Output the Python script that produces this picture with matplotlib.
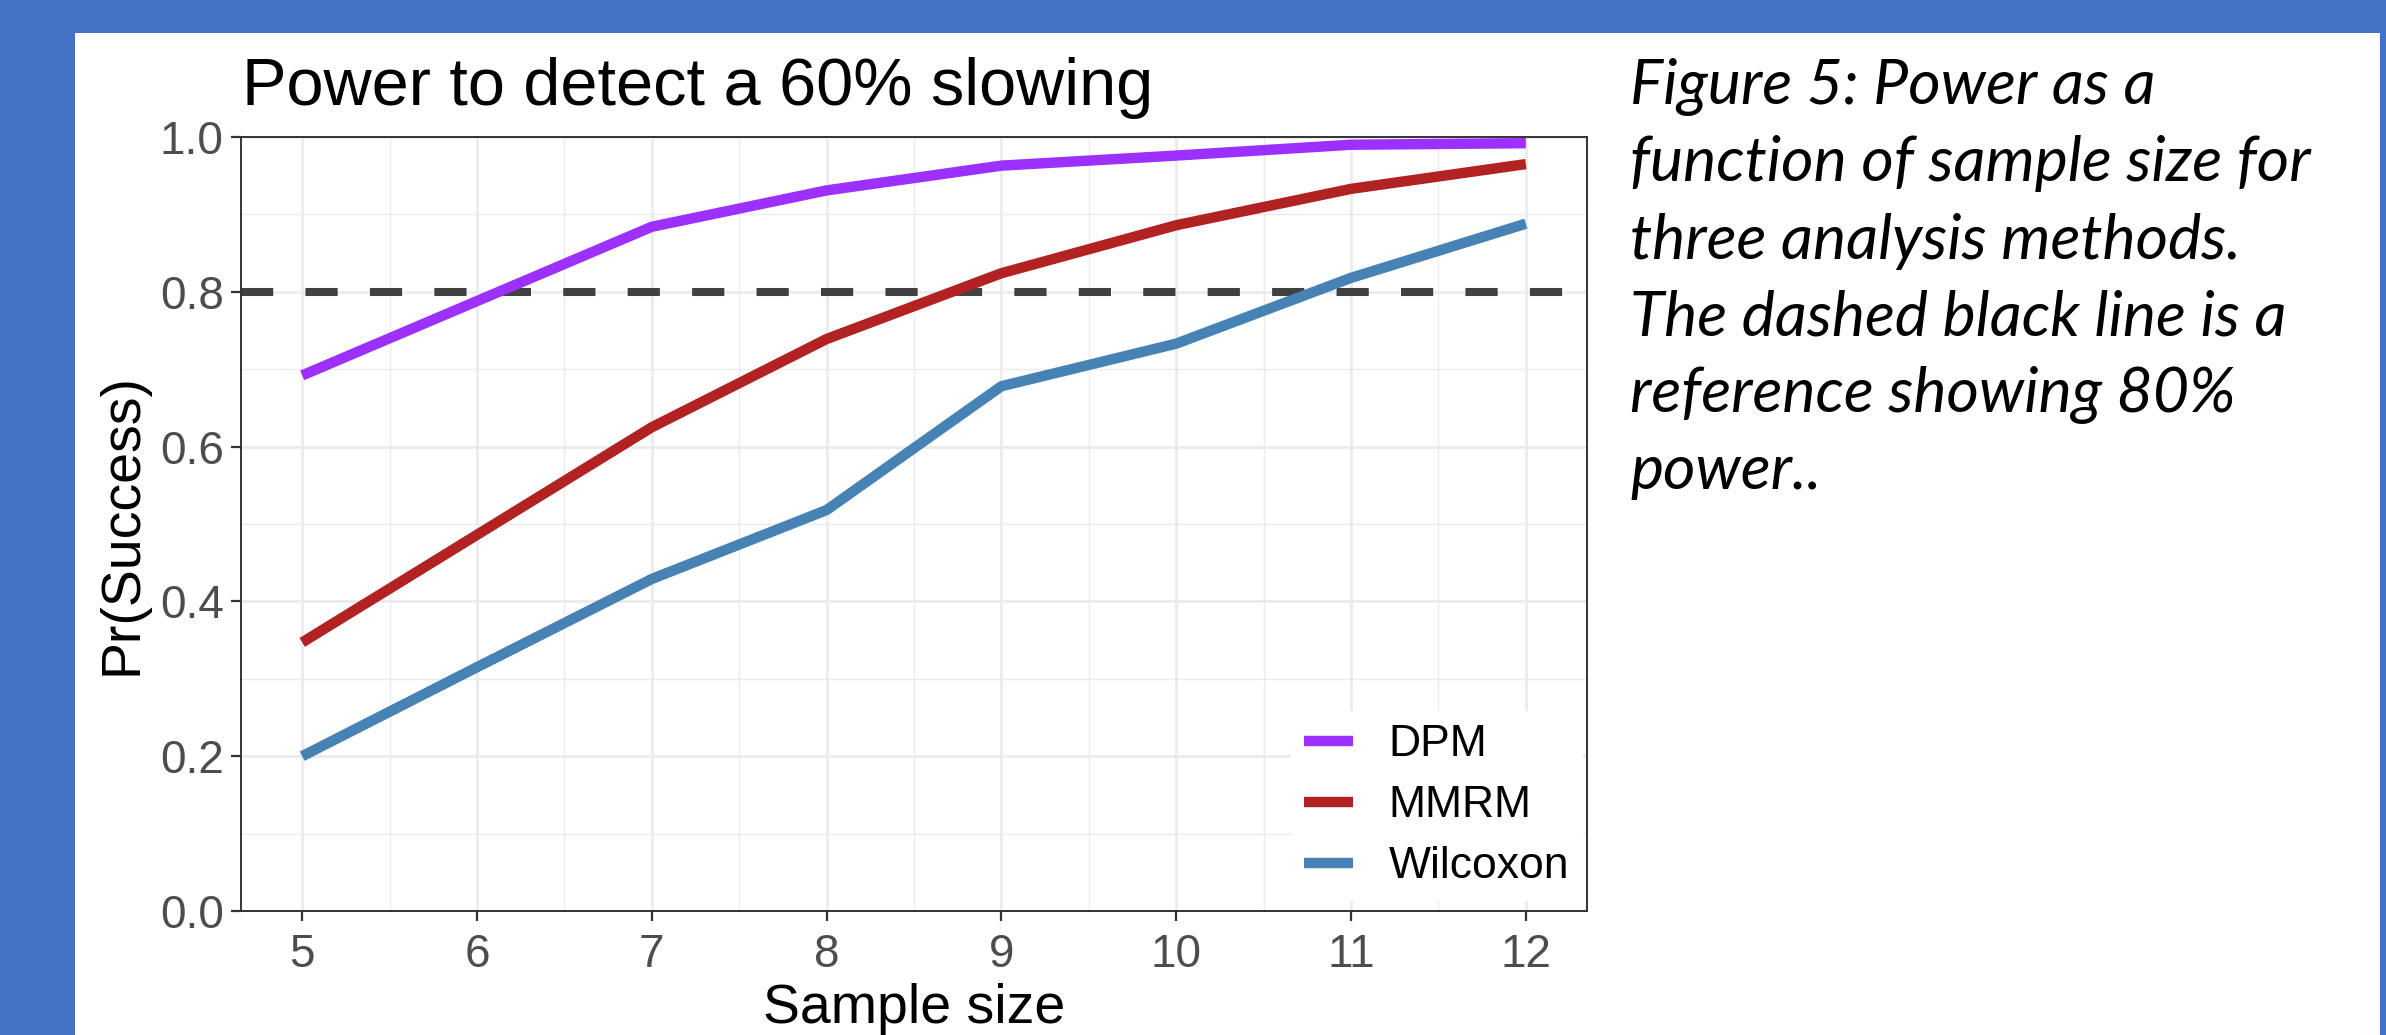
import numpy as np
import matplotlib.pyplot as plt
from matplotlib.patches import Rectangle
from matplotlib.ticker import MultipleLocator

# data
sample_size = [5, 6, 7, 8, 9, 10, 11, 12]
dpm = [0.692, 0.788, 0.884, 0.931, 0.963, 0.976, 0.990, 0.992]
mmrm = [0.347, 0.486, 0.625, 0.739, 0.824, 0.886, 0.933, 0.965]
wilcoxon = [0.200, 0.315, 0.429, 0.518, 0.678, 0.733, 0.818, 0.888]
series_names = ["DPM", "MMRM", "Wilcoxon"]
series_colors = ["#9B30FF", "#B22222", "#4682B4"]
reference_power = 0.8
y_ticks = [0.0, 0.2, 0.4, 0.6, 0.8, 1.0]

title = "Power to detect a 60% slowing"
caption = ["Figure 5: Power as a",
           "function of sample size for",
           "three analysis methods.",
           "The dashed black line is a",
           "reference showing 80%",
           "power.."]

W, H = 2386, 1035
fig = plt.figure(figsize=(W / 100, H / 100), dpi=100)
fig.patch.set_facecolor("#4472C4")

# white slide area
fig.patches.append(Rectangle((75 / W, 0), (2380 - 75) / W, (H - 33) / H,
                             transform=fig.transFigure, facecolor="white",
                             edgecolor="none", zorder=-5))

left, right, top, bottom = 241, 1587, 137, 911
ax = fig.add_axes([left / W, (H - bottom) / H, (right - left) / W, (bottom - top) / H])
ax.set_facecolor("white")

for vals, name, col in zip([dpm, mmrm, wilcoxon], series_names, series_colors):
    ax.plot(sample_size, vals, color=col, lw=7.5, label=name,
            solid_capstyle="butt", zorder=3)

ax.axhline(reference_power, color="#404040", lw=5.8, dashes=(4, 4), zorder=2)

ax.set_xlim(4.65, 12.35)
ax.set_ylim(0, 1)
ax.set_xticks(sample_size)
ax.set_yticks(y_ticks)
ax.set_yticklabels([f"{v:.1f}" for v in y_ticks])
ax.yaxis.set_minor_locator(MultipleLocator(0.1))
ax.xaxis.set_minor_locator(MultipleLocator(0.5))

ax.grid(which="major", color="#EBEBEB", lw=2, zorder=0)
ax.grid(which="minor", color="#EBEBEB", lw=1, zorder=0)
ax.set_axisbelow(True)

for s in ax.spines.values():
    s.set_color("#333333")
    s.set_linewidth(1.4)
    s.set_zorder(10)

ax.tick_params(which="major", length=7.5, width=1.6, color="#333333",
               labelsize=33, labelcolor="#4D4D4D", pad=5)
ax.tick_params(axis="x", which="major", pad=8)
ax.tick_params(which="minor", length=0)
for lab in ax.get_xticklabels() + ax.get_yticklabels():
    lab.set_family("Liberation Sans")

ax.set_xlabel("Sample size", fontsize=40, family="Liberation Sans", labelpad=5)
ax.set_ylabel("Pr(Success)", fontsize=40, family="Liberation Sans", labelpad=8)
ax.set_title(title, fontsize=48, family="Liberation Sans", loc="left",
             x=0.001, pad=23)

leg = ax.legend(loc="lower right", bbox_to_anchor=(0.9967, 0.0134), borderaxespad=0,
                frameon=True, facecolor="white", edgecolor="none", framealpha=1,
                fancybox=False, prop={"family": "Liberation Sans", "size": 32},
                handlelength=1.1, handletextpad=0.81, labelspacing=0.45,
                borderpad=0.3)
leg.set_zorder(5)

y0 = H - 87
for i, line in enumerate(caption):
    fig.text(1630 / W, (y0 - i * 77) / H, line, fontsize=45, style="italic",
             family="Lato", va="center", ha="left", color="black")

fig.savefig("out.png", dpi=100, facecolor=fig.get_facecolor())
